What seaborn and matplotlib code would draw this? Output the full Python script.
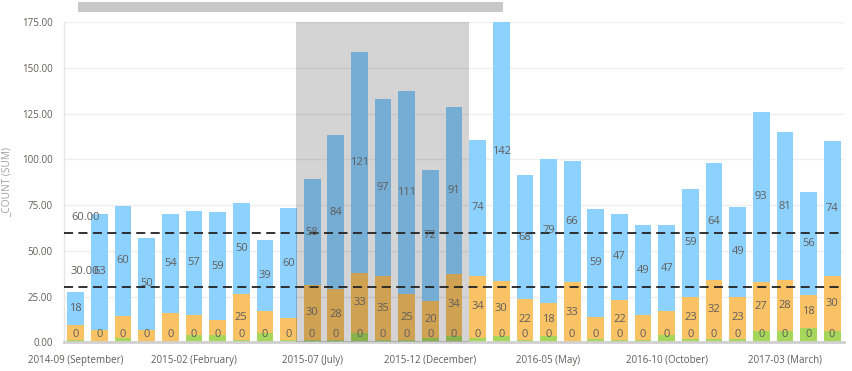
import matplotlib
matplotlib.use("Agg")
import matplotlib.pyplot as plt
from matplotlib.patches import Rectangle
import seaborn as sns
import pandas as pd

months = ["2014-09 (September)", "2014-10 (October)", "2014-11 (November)", "2014-12 (December)",
          "2015-01 (January)", "2015-02 (February)", "2015-03 (March)", "2015-04 (April)",
          "2015-05 (May)", "2015-06 (June)", "2015-07 (July)", "2015-08 (August)",
          "2015-09 (September)", "2015-10 (October)", "2015-11 (November)", "2015-12 (December)",
          "2016-01 (January)", "2016-02 (February)", "2016-03 (March)", "2016-04 (April)",
          "2016-05 (May)", "2016-06 (June)", "2016-07 (July)", "2016-08 (August)",
          "2016-09 (September)", "2016-10 (October)", "2016-11 (November)", "2016-12 (December)",
          "2017-01 (January)", "2017-02 (February)", "2017-03 (March)", "2017-04 (April)",
          "2017-05 (May)"]

green_vals = [1.4, 0, 2.5, 0, 0, 4, 4, 1.2, 5, 1.2, 1.2, 1.2, 5, 1.2, 1.2, 2.5, 3.5,
              2.5, 3.5, 1.5, 3.5, 0, 2, 1.2, 1, 4, 2, 2, 2, 6, 6, 8, 6]
orange_vals = [8, 7, 12, 7, 16, 11, 8, 25, 12, 12, 30, 28, 33, 35, 25, 20, 34,
               34, 30, 22, 18, 33, 12, 22, 14, 13, 23, 32, 23, 27, 28, 18, 30]
blue_vals = [18, 63, 60, 50, 54, 57, 59, 50, 39, 60, 58, 84, 121, 97, 111, 72, 91,
             74, 142, 68, 79, 66, 59, 47, 49, 47, 59, 64, 49, 93, 81, 56, 74]
orange_labels = [None, None, None, None, None, None, None, 25, None, None, 30, 28, 33, 35, 25, 20, 34,
                 34, 30, 22, 18, 33, None, 22, None, None, 23, 32, 23, 27, 28, 18, 30]
green_labels = [0] * 33
ref_lines = [30, 60]
shade_range = (9.33, 16.64)
tick_every = 5

df = pd.DataFrame({"month": months, "green": green_vals, "orange": orange_vals, "blue": blue_vals})
df["b_orange"] = df["green"]
df["b_blue"] = df["green"] + df["orange"]

sns.set_theme(style="white")
plt.rcParams["font.family"] = ["Open Sans", "DejaVu Sans"]

fig = plt.figure(figsize=(8.53, 3.71), dpi=100)
ax = fig.add_axes([64 / 853, 1 - 342.3 / 371, (844 - 64) / 853, (342.3 - 22.3) / 371])

C_GREEN = "#A6D75B"
C_ORANGE = "#F9C265"
C_BLUE = "#8DD1FF"
W = 0.71

sns.barplot(data=df, x="month", y="green", color=C_GREEN, width=W, saturation=1,
            ax=ax, zorder=2, linewidth=0)
sns.barplot(data=df, x="month", y="orange", bottom=df["b_orange"].values, color=C_ORANGE, width=W,
            saturation=1, ax=ax, zorder=2, linewidth=0)
sns.barplot(data=df, x="month", y="blue", bottom=df["b_blue"].values, color=C_BLUE, width=W,
            saturation=1, ax=ax, zorder=2, linewidth=0)

ax.set_xlim(-0.5, len(months) - 0.5)
ax.set_ylim(0, 175)
ax.set_yticks(range(0, 176, 25))
ax.set_yticklabels([f"{v:.2f}" for v in range(0, 176, 25)])
ax.grid(axis="y", color="#EFEFEF", linewidth=1, zorder=0)
ax.set_axisbelow(True)

ticks = list(range(0, len(months), tick_every))
ax.set_xticks(ticks)
ax.set_xticklabels([months[i] for i in ticks])
ax.tick_params(axis="both", length=0, labelsize=7, colors="#605E5C")
ax.tick_params(axis="y", pad=8)
ax.tick_params(axis="x", pad=9)
ax.set_xlabel("")
ax.set_ylabel("_COUNT (SUM)", fontsize=7.3, color="#A0A0A0")
ax.yaxis.set_label_coords((12 - 64) / 780, 0.5)

for s in ["top", "right"]:
    ax.spines[s].set_visible(False)
ax.spines["left"].set_color("#E6E6E6")
ax.spines["left"].set_linewidth(1)
ax.spines["bottom"].set_color("#D0D0D0")
ax.spines["bottom"].set_linewidth(2)

# shaded selection
ax.axvspan(shade_range[0], shade_range[1], color="black", alpha=0.17, linewidth=0, zorder=3)

# reference lines
for v in ref_lines:
    ax.axhline(v, color="#222222", linestyle=(0, (5, 3)), linewidth=1.3, zorder=5)
    ax.text(0.4, v + 8.5, f"{v:.2f}", ha="center", va="center", fontsize=8, color="#605E5C", zorder=6)

lab_kw = dict(ha="center", va="center", fontsize=8, color="#605E5C", zorder=6)
for i in range(len(months)):
    g, o, b = green_vals[i], orange_vals[i], blue_vals[i]
    top = min(g + o + b, 175)
    ax.text(i, 4.0, f"{green_labels[i]}", **lab_kw)
    if orange_labels[i] is not None:
        ax.text(i, g + o / 2, f"{orange_labels[i]}", **lab_kw)
    ax.text(i, (g + o + top) / 2, f"{b}", **lab_kw)

# scrollbar at top
fig.patches.append(Rectangle((78 / 853, 1 - 11 / 371), 424 / 853, 9 / 371, transform=fig.transFigure,
                             facecolor="#C8C8C8", edgecolor="#BDBDBD", linewidth=0.5, figure=fig))

fig.savefig("out.png", dpi=100)
